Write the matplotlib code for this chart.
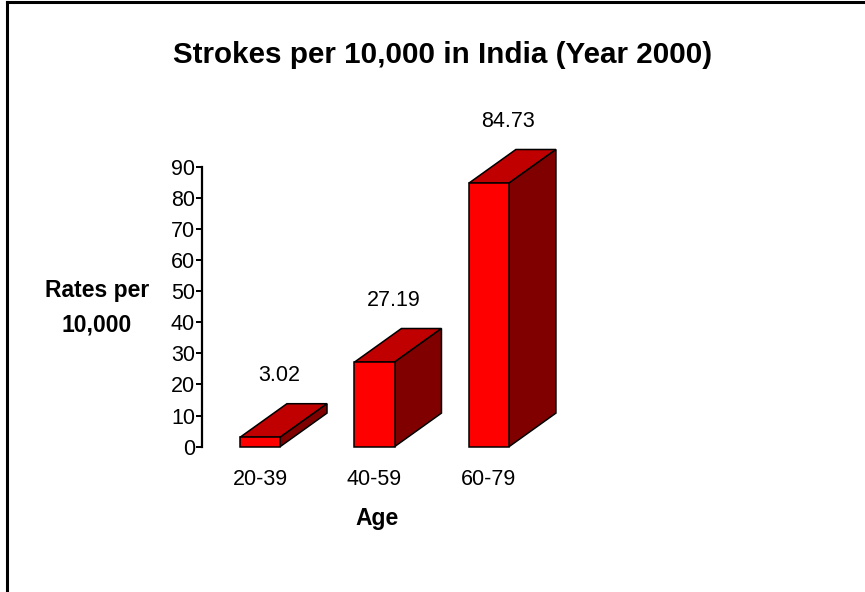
import numpy as np
import matplotlib.pyplot as plt
from matplotlib.patches import Polygon
from matplotlib.lines import Line2D

plt.rcParams['font.family'] = ['Liberation Sans', 'DejaVu Sans']

judul = 'Strokes per 10,000 in India (Year 2000)'
kelompokUmur = ['20-39', '40-59', '60-79']
nilai = [3.02, 27.19, 84.73]
yTicks = [0, 10, 20, 30, 40, 50, 60, 70, 80, 90]

W, H = 865, 592
fig = plt.figure(figsize=(W / 100, H / 100), dpi=100)


def px(x, y):
    # pixel (from top-left) -> figure fraction
    return x / W, 1 - y / H


x0, y0 = px(202, 446.7)
x1, y1 = px(600, 166.7)
ax = fig.add_axes([x0, y0, x1 - x0, y1 - y0])

pos = np.arange(len(nilai))
lebar = 0.35
dx, dy = 0.41, 10.8

ax.bar(pos, nilai, width=lebar, color='#ff0000', edgecolor='black',
       linewidth=1.1, zorder=3, clip_on=False)
for x, v in zip(pos, nilai):
    kiri, kanan = x - lebar / 2, x + lebar / 2
    atas = Polygon([(kiri, v), (kanan, v), (kanan + dx, v + dy), (kiri + dx, v + dy)],
                   closed=True, facecolor='#c00000', edgecolor='black',
                   linewidth=1.1, zorder=2, clip_on=False)
    sisi = Polygon([(kanan, 0), (kanan + dx, dy), (kanan + dx, v + dy), (kanan, v)],
                   closed=True, facecolor='#800000', edgecolor='black',
                   linewidth=1.1, zorder=2, clip_on=False)
    ax.add_patch(atas)
    ax.add_patch(sisi)
    ax.text(x + 0.17, v + dy + 9, '{:.2f}'.format(v), ha='center', va='center',
            fontsize=15.5, clip_on=False)

ax.set_xlim(-0.507, 2.97)
ax.set_ylim(0, 90)
ax.set_yticks(yTicks)
ax.set_xticks(pos)
ax.set_xticklabels(kelompokUmur)
ax.tick_params(axis='y', direction='out', length=4, width=1.4, labelsize=15.5, pad=1)
ax.tick_params(axis='x', length=0, labelsize=15.5, pad=16)
for s in ['top', 'right', 'bottom']:
    ax.spines[s].set_visible(False)
ax.spines['left'].set_linewidth(1.6)
ax.patch.set_visible(False)

fig.text(*px(443, 55), judul, ha='center', va='center', fontsize=21.3, fontweight='bold')
fig.text(*px(377, 518), 'Age', ha='center', va='center', fontsize=16.5, fontweight='bold')
fig.text(*px(97, 308), 'Rates per\n10,000', ha='center', va='center', fontsize=16.5,
         fontweight='bold', linespacing=1.65)

# chart border (left and top only visible)
fig.add_artist(Line2D([6.5 / W, 6.5 / W], [0, 1 - 2 / H], transform=fig.transFigure,
                      color='black', linewidth=2.2))
fig.add_artist(Line2D([6.5 / W, 1], [1 - 2 / H, 1 - 2 / H], transform=fig.transFigure,
                      color='black', linewidth=2.2))

fig.savefig('out.png', dpi=100)
